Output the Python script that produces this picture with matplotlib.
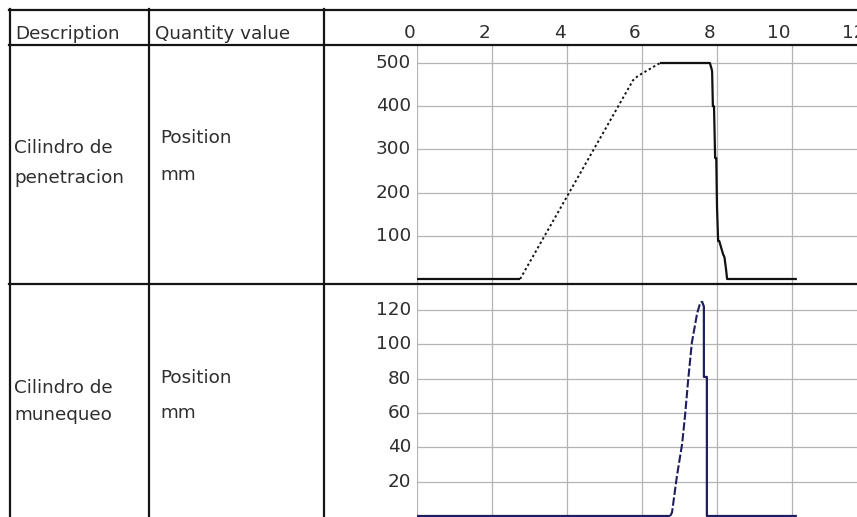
import matplotlib
matplotlib.use("Agg")
import matplotlib.pyplot as plt
from matplotlib.lines import Line2D
from matplotlib.transforms import blended_transform_factory

# ---------------- data ----------------
header_labels = ["Description", "Quantity value"]
row_descriptions = [["Cilindro de", "penetracion"], ["Cilindro de", "munequeo"]]
row_quantities = [["Position", "mm"], ["Position", "mm"]]

x_ticks = [0, 2, 4, 6, 8, 10, 12]
pen_yticks = [100, 200, 300, 400, 500]
mun_yticks = [20, 40, 60, 80, 100, 120]

# Cilindro de penetracion (time, position mm)
pen_idle_t = [0, 2.75]
pen_idle_y = [0, 0]
pen_ramp_t = [2.75, 5.76, 5.89, 6.48]
pen_ramp_y = [0, 460, 470, 500]
pen_hold_t = [6.48, 7.81, 7.86, 7.87, 7.89, 7.92, 7.95, 7.98, 8.0, 8.03, 8.06, 8.16, 8.2, 8.24, 8.27, 10.13]
pen_hold_y = [500, 500, 485, 480, 400, 400, 280, 280, 167, 88, 88, 58, 50, 23, 0, 0]

# Cilindro de munequeo (time, position mm)
mun_idle_t = [0, 6.75]
mun_idle_y = [0, 0]
mun_ramp_t = [6.75, 6.8, 6.93, 7.07, 7.15, 7.23, 7.33, 7.47, 7.55, 7.6]
mun_ramp_y = [0, 2, 23, 42, 59, 79, 101, 118, 124, 125]
mun_ret_t = [7.6, 7.65, 7.65, 7.73, 7.73, 10.13]
mun_ret_y = [125, 122, 81, 81, 0, 0]

# ---------------- layout helpers ----------------
W, H = 857, 517
fig = plt.figure(figsize=(W / 100, H / 100), dpi=100)
fig.patch.set_facecolor("white")


def fx(px):
    return px / W


def fy(py):
    return 1 - py / H


TEXT_COLOR = "#2e2e2e"
GRID_COLOR = "#b4b4b4"
BORDER_COLOR = "#151515"
FS = 13.2

x0_px, px_per_unit = 417.0, 37.5
x_right_px = 880
xmax = (x_right_px - x0_px) / px_per_unit


def make_axes(top_px, bottom_px, zero_px, px_per_val):
    ax = fig.add_axes([fx(x0_px), fy(bottom_px), fx(x_right_px - x0_px), (bottom_px - top_px) / H])
    ax.set_xlim(0, xmax)
    ax.set_ylim((zero_px - bottom_px) / px_per_val, (zero_px - top_px) / px_per_val)
    for s in ax.spines.values():
        s.set_visible(False)
    ax.set_xticks([])
    ax.set_yticks([])
    ax.patch.set_alpha(0)
    return ax


ax1 = make_axes(45, 283, 279, 0.432)
ax2 = make_axes(284, 518, 516, 1.717)

for ax, yt in ((ax1, pen_yticks), (ax2, mun_yticks)):
    for v in x_ticks:
        ax.axvline(v, color=GRID_COLOR, lw=0.9, zorder=1)
    for v in yt:
        ax.axhline(v, color=GRID_COLOR, lw=0.9, zorder=1)
    trans = blended_transform_factory(fig.transFigure, ax.transData)
    for v in yt:
        ax.text(fx(411), v, str(v), transform=trans, ha="right", va="center",
                fontsize=FS, color=TEXT_COLOR, clip_on=False)

# curves
ax1.plot(pen_idle_t, pen_idle_y, color="#111111", lw=1.6, zorder=3, solid_capstyle="butt")
ax1.plot(pen_ramp_t, pen_ramp_y, color="#111111", lw=1.4, ls=(0, (1.2, 1.4)), zorder=3)
ax1.plot(pen_hold_t, pen_hold_y, color="#111111", lw=1.6, zorder=3, solid_capstyle="butt")

NAVY = "#1e1e5e"
ax2.plot(mun_idle_t, mun_idle_y, color=NAVY, lw=1.6, zorder=3, solid_capstyle="butt")
ax2.plot(mun_ramp_t, mun_ramp_y, color=NAVY, lw=1.5, ls=(0, (4, 1.2)), zorder=3)
ax2.plot(mun_ret_t, mun_ret_y, color=NAVY, lw=1.6, zorder=3, solid_capstyle="butt")

# x tick labels in header
transx = blended_transform_factory(ax1.transData, fig.transFigure)
for v in x_ticks:
    ax1.text(v - 1.5 / px_per_unit, fy(38), str(v), transform=transx, ha="right", va="baseline",
             fontsize=FS, color=TEXT_COLOR, clip_on=False)

# table borders
def hline(py, x1, x2, lw=1.6):
    fig.add_artist(Line2D([fx(x1), fx(x2)], [fy(py), fy(py)], color=BORDER_COLOR, lw=lw))


def vline(px, y1, y2, lw=1.6):
    fig.add_artist(Line2D([fx(px), fx(px)], [fy(y1), fy(y2)], color=BORDER_COLOR, lw=lw))


hline(10, 9, W + 5)
hline(45, 9, W + 5)
hline(283.5, 9, W + 5)
vline(10, 9, H + 5)
vline(148.5, 9, H + 5)
vline(323.5, 9, H + 5)

# header texts
fig.text(fx(15), fy(39), header_labels[0], fontsize=FS, color=TEXT_COLOR, va="baseline")
fig.text(fx(155), fy(39), header_labels[1], fontsize=FS, color=TEXT_COLOR, va="baseline")

# row texts
desc_baselines = [(153, 183), (393, 420)]
qty_baselines = [(143, 180), (383, 418)]
for i in range(2):
    for txt, b in zip(row_descriptions[i], desc_baselines[i]):
        fig.text(fx(14), fy(b), txt, fontsize=FS, color=TEXT_COLOR, va="baseline")
    for txt, b in zip(row_quantities[i], qty_baselines[i]):
        fig.text(fx(160), fy(b), txt, fontsize=FS, color=TEXT_COLOR, va="baseline")

fig.savefig("out.png", dpi=100)
